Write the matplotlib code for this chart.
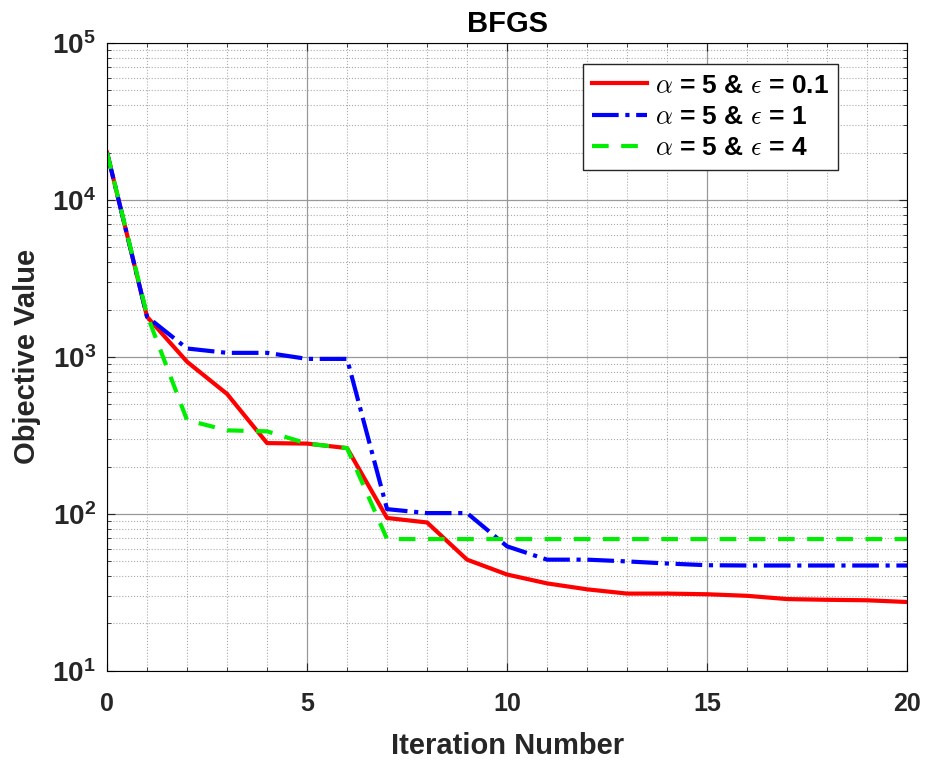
import matplotlib
matplotlib.use("Agg")
import matplotlib.pyplot as plt
from matplotlib.ticker import LogLocator, MultipleLocator, NullFormatter

plt.rcParams['font.family'] = ['Liberation Sans', 'DejaVu Sans']
plt.rcParams['font.weight'] = 'bold'
plt.rcParams['mathtext.fontset'] = 'cm'

iters = list(range(21))

# objective values
obj_eps01 = [20000, 1800, 930, 580, 282, 280, 262, 94, 88, 51, 41,
             36, 33, 31, 31, 30.7, 30, 28.6, 28.3, 28.1, 27.4]
obj_eps1 = [20000, 1800, 1130, 1060, 1060, 970, 970, 107, 101, 101, 62,
            51, 51, 49.7, 48.2, 47, 46.8, 46.8, 46.8, 46.8, 46.8]
obj_eps4 = [20000, 1850, 395, 340, 335, 280, 262, 69, 69, 69, 69,
            69, 69, 69, 69, 69, 69, 69, 69, 69, 69]

labels = [r'$\alpha$ = 5 & $\epsilon$ = 0.1',
          r'$\alpha$ = 5 & $\epsilon$ = 1',
          r'$\alpha$ = 5 & $\epsilon$ = 4']

fig = plt.figure(figsize=(9.26, 7.6), dpi=100)
ax = fig.add_axes([0.1156, 0.1175, 0.864, 0.826])

ax.semilogy(iters, obj_eps01, '-', color='#ff0000', lw=3, label=labels[0])
ax.semilogy(iters, obj_eps1, '-.', color='#0000ff', lw=3, label=labels[1])
ax.semilogy(iters, obj_eps4, '--', color='#00ee00', lw=3, label=labels[2],
            dashes=(4, 3))

ax.set_xlim(0, 20)
ax.set_ylim(10, 1e5)
ax.xaxis.set_major_locator(MultipleLocator(5))
ax.xaxis.set_minor_locator(MultipleLocator(1))
ax.yaxis.set_major_locator(LogLocator(base=10, numticks=10))
ax.yaxis.set_minor_locator(LogLocator(base=10, subs=range(2, 10), numticks=20))
ax.yaxis.set_minor_formatter(NullFormatter())

ax.grid(True, which='major', color='#999999', lw=0.9, ls='-')
ax.grid(True, which='minor', color='#aaaaaa', lw=0.8, ls=':')
ax.tick_params(which='both', direction='in', top=True, right=True,
               labelsize=18, colors='#262626')
ax.tick_params(axis='x', pad=15)
ax.tick_params(axis='y', pad=8, labelsize=20)
ax.tick_params(which='major', length=6)
ax.tick_params(which='minor', length=3)
for lab in ax.get_xticklabels() + ax.get_yticklabels():
    lab.set_fontweight('bold')

ax.set_xlabel('Iteration Number', fontsize=21, fontweight='bold', color='#262626',
              labelpad=12)
ax.set_ylabel('Objective Value', fontsize=21, fontweight='bold', color='#262626',
              labelpad=8)
ax.set_title('BFGS', fontsize=21, fontweight='bold', pad=8)

leg = ax.legend(loc='upper right', bbox_to_anchor=(0.914, 0.966), borderaxespad=0,
                fontsize=19, fancybox=False, edgecolor='#262626', framealpha=1,
                handlelength=2.1, handletextpad=0.3, labelspacing=0.28,
                borderpad=0.35)
leg.get_frame().set_linewidth(1.0)

fig.savefig('out.png', dpi=100)
